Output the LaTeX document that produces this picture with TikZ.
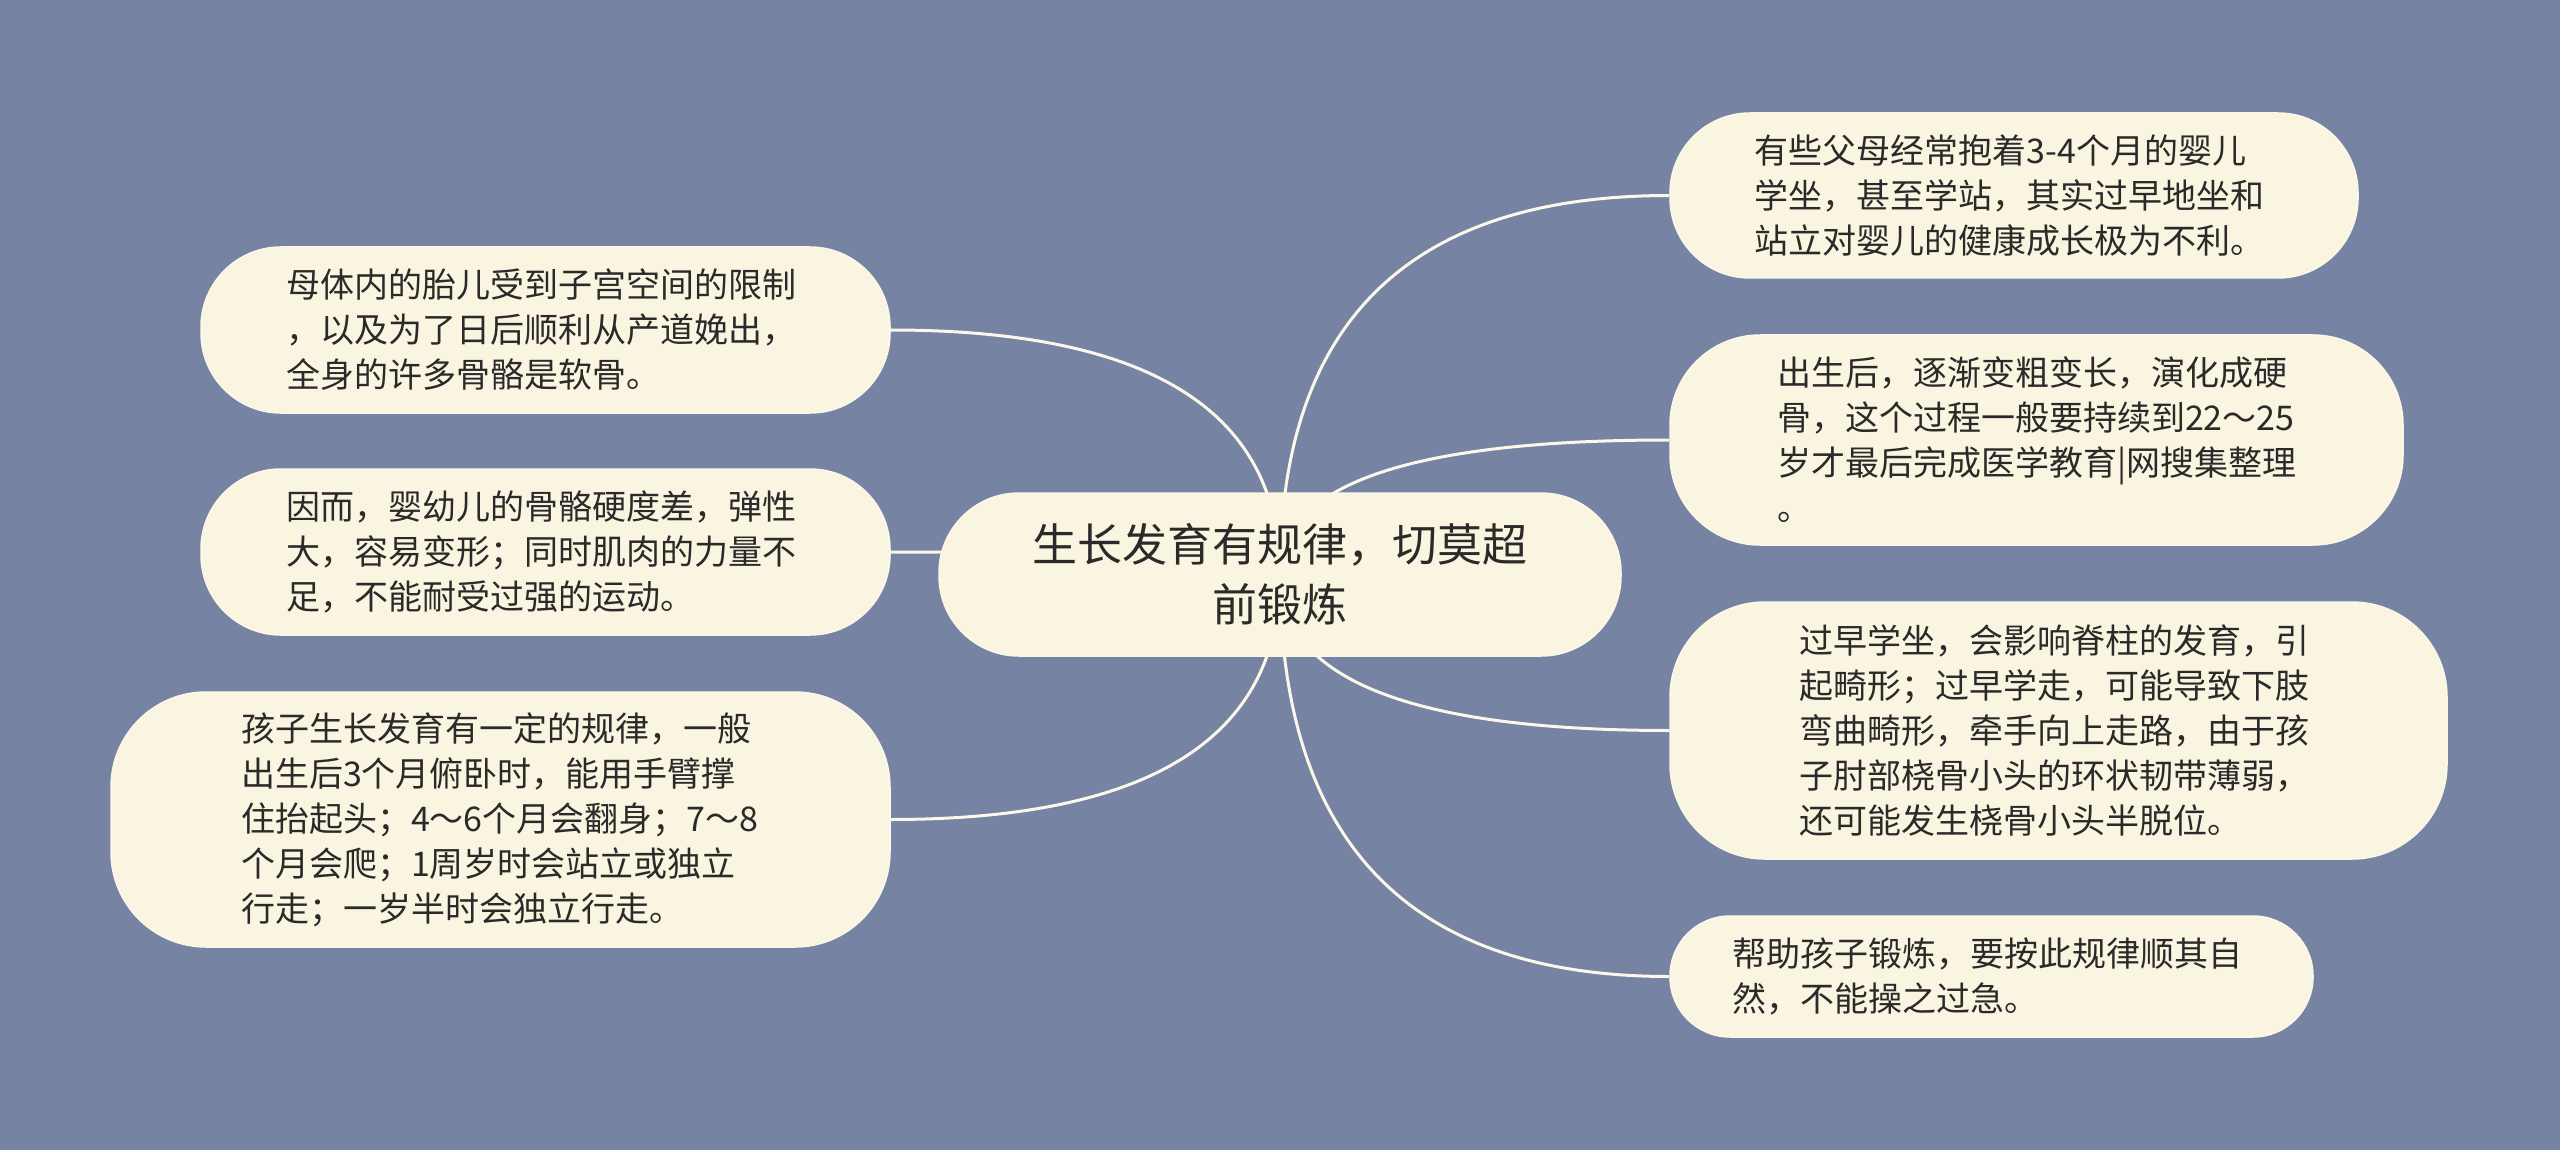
\documentclass[tikz,border=0pt]{standalone}
\usepackage{fontspec}
\setmainfont{Noto Sans CJK SC}
\usetikzlibrary{calc,backgrounds}
\definecolor{bgc}{HTML}{7783A3}
\definecolor{boxc}{HTML}{FAF5E0}
\definecolor{linec}{HTML}{FBF8EA}
\definecolor{txtc}{HTML}{2A2A2A}
\tikzset{
  leaf/.style={draw=linec, line width=1.5pt, fill=boxc, text=txtc, rounded corners=80pt,
    align=left, text width=519pt, inner sep=0pt, font=\fontsize{34}{45}\selectfont},
  hub/.style={draw=linec, line width=1.5pt, fill=boxc, text=txtc, rounded corners=80pt,
    align=center, inner sep=0pt, font=\fontsize{45}{60}\selectfont},
  link/.style={draw=linec, line width=3pt},
}
\begin{document}
\begin{tikzpicture}[x=1pt,y=-1pt]
\useasboundingbox (0,0) rectangle (2560,1150);

\node[hub, minimum width=682pt, minimum height=163pt] (c) at (1280,574.5)
  {生长发育有规律，切莫超\\前锻炼};

\node[leaf, minimum width=689pt, minimum height=166pt] (L1) at (545.5,330)
  {母体内的胎儿受到子宫空间的限制\\，以及为了日后顺利从产道娩出，\\全身的许多骨骼是软骨。};
\node[leaf, minimum width=689pt, minimum height=166pt] (L2) at (545.5,552)
  {因而，婴幼儿的骨骼硬度差，弹性\\大，容易变形；同时肌肉的力量不\\足，不能耐受过强的运动。};
\node[leaf, minimum width=779pt, minimum height=255pt, rounded corners=95pt] (L3) at (500.5,819.5)
  {孩子生长发育有一定的规律，一般\\出生后3个月俯卧时，能用手臂撑\\住抬起头；4～6个月会翻身；7～8\\个月会爬；1周岁时会站立或独立\\行走；一岁半时会独立行走。};

\node[leaf, minimum width=688pt, minimum height=165pt] (R1) at (2014,195.5)
  {有些父母经常抱着3-4个月的婴儿\\学坐，甚至学站，其实过早地坐和\\站立对婴儿的健康成长极为不利。};
\node[leaf, minimum width=733pt, minimum height=210pt, rounded corners=90pt] (R2) at (2036.5,440)
  {出生后，逐渐变粗变长，演化成硬\\\mbox{骨，这个过程一般要持续到22～25}\\\mbox{岁才最后完成医学教育|网搜集整理}\\。};
\node[leaf, minimum width=777pt, minimum height=257pt, rounded corners=95pt] (R3) at (2058.5,730.5)
  {过早学坐，会影响脊柱的发育，引\\起畸形；过早学走，可能导致下肢\\弯曲畸形，牵手向上走路，由于孩\\子肘部桡骨小头的环状韧带薄弱，\\还可能发生桡骨小头半脱位。};
\node[leaf, minimum width=643pt, minimum height=121pt, rounded corners=60pt] (R4) at (1991.5,976.5)
  {帮助孩子锻炼，要按此规律顺其自\\然，不能操之过急。};

\begin{scope}[on background layer]
  \fill[bgc] (0,0) rectangle (2560,1150);
  \foreach \n/\a in {L1/east,L2/east,L3/east,R1/west,R2/west,R3/west,R4/west} {
    \coordinate (k) at (c.center|-\n.\a);
    \draw[link] (c.center) .. controls ($(c.center)!0.667!(k)$) and ($(\n.\a)!0.667!(k)$) .. (\n.\a);
  }
\end{scope}
\end{tikzpicture}
\end{document}
